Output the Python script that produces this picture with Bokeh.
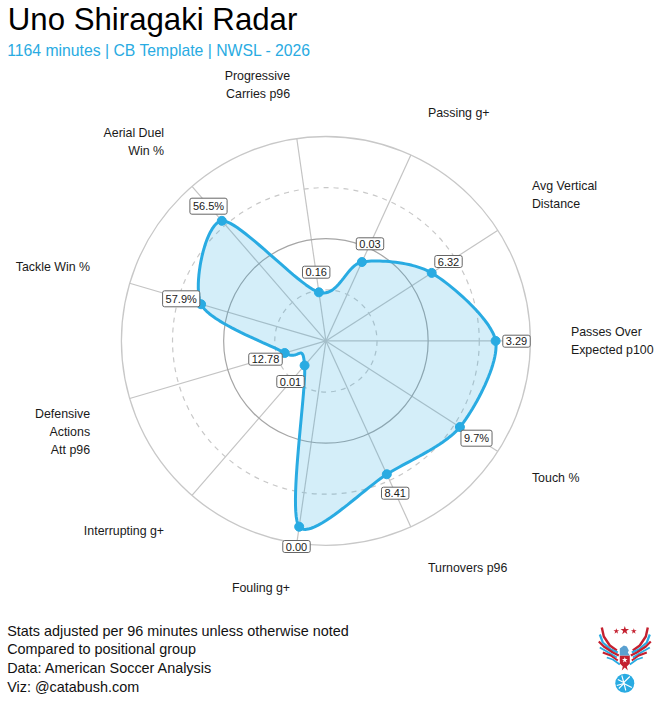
import math
from bokeh.plotting import figure
from bokeh.models import Range1d
from bokeh.core.properties import value
from bokeh.embed import file_html
from bokeh.resources import INLINE

categories = ["Passes Over\nExpected p100", "Avg Vertical\nDistance", "Passing g+", "Progressive\nCarries p96",
              "Aerial Duel\nWin %", "Tackle Win %", "Defensive\nActions\nAtt p96", "Interrupting g+",
              "Fouling g+", "Turnovers p96", "Touch %"]
percentiles = [0.83, 0.615, 0.424, 0.24, 0.777, 0.636, 0.21, 0.159, 0.918, 0.717, 0.779]
value_labels = ["3.29", "6.32", "0.03", "0.16", "56.5%", "57.9%", "12.78", "0.01", "0.00", "8.41", "9.7%"]
rings = [0.25, 0.5, 0.75, 1.0]
footer = ["Stats adjusted per 96 minutes unless otherwise noted", "Compared to positional group",
          "Data: American Soccer Analysis", "Viz: @catabush.com"]

W, H = 660, 701
CX, CY, R = 325.4, 340.4, 204.5
BLUE = "#29ABE2"; RED = "#C4202F"; INK = "#1a1a1a"

def ux(px): return (px - CX) / R
def uy(py): return (CY - py) / R

p = figure(width=W, height=H, output_backend="svg", toolbar_location=None,
           x_range=Range1d(ux(0), ux(W)), y_range=Range1d(uy(H), uy(0)),
           min_border=0, outline_line_color=None, background_fill_color="white")
p.axis.visible = False
p.grid.visible = False

n = len(categories)
ang = [2 * math.pi * i / n for i in range(n)]

# spokes
p.segment(x0=[0] * n, y0=[0] * n, x1=[math.cos(a) for a in ang], y1=[math.sin(a) for a in ang],
          line_color="#c4c4c4", line_width=1.2)
# rings
for r, col, dash, lw in zip(rings, ["#c8c8c8", "#a6a6a6", "#c8c8c8", "#c8c8c8"],
                            ["dashed", "solid", "dashed", "solid"], [1.2, 1.2, 1.2, 1.3]):
    p.circle(x=[0], y=[0], radius=r, fill_color=None, line_color=col,
             line_width=lw, line_dash="5 5" if dash == "dashed" else "solid")

# shape: closed cardinal spline through the values
xs = [v * math.cos(a) for v, a in zip(percentiles, ang)]
ys = [v * math.sin(a) for v, a in zip(percentiles, ang)]
cx, cy = [], []
K = 0.42
for i in range(n):
    for pts, out in ((xs, cx), (ys, cy)):
        a, b, c, d = pts[i - 1], pts[i], pts[(i + 1) % n], pts[(i + 2) % n]
        m1, m2 = K * (c - a), K * (d - b)
        for j in range(24):
            t = j / 24
            out.append((2*t**3 - 3*t**2 + 1)*b + (t**3 - 2*t**2 + t)*m1 + (-2*t**3 + 3*t**2)*c + (t**3 - t**2)*m2)
p.patch(cx, cy, fill_color=BLUE, fill_alpha=0.2, line_color=None)
p.line(cx + cx[:1], cy + cy[:1], line_color=BLUE, line_width=3)
p.scatter(xs, ys, size=9, fill_color=BLUE, line_color=BLUE)

# value tags
tag_px = [(516, 340.7), (448, 261), (369.5, 243.3), (315.7, 271.7), (208, 205.7), (180.7, 298.3),
          (265, 358.7), (290, 381), (296, 546), (394.7, 492.7), (476, 437.7)]
p.text(x=[ux(a) for a, _ in tag_px], y=[uy(b) for _, b in tag_px], text=value_labels,
       text_align="center", text_baseline="middle", text_font=value("Liberation Sans"),
       text_font_size="11px", text_color=INK, background_fill_color="white",
       border_line_color="#666666", border_line_width=1, padding=(3, 2), border_radius=2)

# category labels
cat_layout = [(570.4, 331.8, "left"), (531.4, 185.8, "left"), (427.4, 112.8, "left"), (289.6, 75.8, "right"),
              (163.6, 132.8, "right"), (89.6, 266.8, "right"), (89.6, 413.8, "right"), (163.6, 530.8, "right"),
              (289.6, 587.8, "right"), (427.4, 567.8, "left"), (531.4, 477.8, "left")]
for label, (x, y, al) in zip(categories, cat_layout):
    for k, line in enumerate(label.split("\n")):
        p.text(x=[ux(x)], y=[uy(y + 17.7 * k)], text=[line], text_align=al, text_baseline="middle",
               text_font=value("Liberation Sans"), text_font_size="12.4px", text_color=INK)

# headings
p.text(x=[ux(7.3)], y=[uy(19.3)], text=["Uno Shiragaki Radar"], text_align="left", text_baseline="middle",
       text_font=value("Liberation Sans"), text_font_size="31.2px", text_color="#000000")
p.text(x=[ux(6.7)], y=[uy(49.7)], text=["1164 minutes | CB Template | NWSL - 2026"], text_align="left",
       text_baseline="middle", text_font=value("Liberation Sans"), text_font_size="15.75px", text_color=BLUE)
for k, line in enumerate(footer):
    p.text(x=[ux(6.7)], y=[uy(630.2 + 18.7 * k)], text=[line], text_align="left", text_baseline="middle",
           text_font=value("Liberation Sans"), text_font_size="14.4px", text_color="#111111")

# logo
LX = 624.3
def stripe(col, pts, lw):
    for sign in (-1, 1):
        p.line([ux(LX + sign * a) for a, _ in pts], [uy(b) for _, b in pts], line_color=col, line_width=lw)
stripe(RED, [(23, 627), (21, 636), (15, 645), (8, 650)], 2.4)
stripe(BLUE, [(25, 634), (22, 642), (14, 649), (7, 652)], 2.2)
stripe(RED, [(26, 641), (21, 646), (12, 652), (6, 655)], 2.2)
stripe(BLUE, [(25, 647), (18, 651), (8, 657)], 2)
stripe(RED, [(22, 652), (14, 655), (7, 660)], 2)
stripe(BLUE, [(18, 657), (12, 659), (5, 664)], 1.8)
p.scatter([ux(LX - 8.5), ux(LX), ux(LX + 9)], [uy(630.7), uy(630), uy(630.7)], marker="star",
          size=[6, 9, 6], fill_color=RED, line_color=None)
p.patch([ux(LX + d) for d in (-5, 5, 5, 2, 3, 0, -3, -2, -5)],
        [uy(y) for y in (655, 655, 663, 666, 670, 667, 670, 666, 663)], fill_color=RED, line_color=None)
p.patch([ux(LX + d) for d in (-5, -1, 2, 4, 3, 5, -5)],
        [uy(y) for y in (648, 645, 646, 650, 652, 655, 655)], fill_color="#5aa0d0", line_color=None)
p.scatter([ux(LX)], [uy(659.5)], marker="star", size=6, fill_color="white", line_color=None)
p.scatter([ux(LX)], [uy(682.7)], marker="circle", size=19, fill_color=BLUE, line_color=None)
for seg in ([(-7, 679), (-1, 682), (5, 676)], [(-1, 682), (1, 690)], [(-8, 685), (-1, 683), (7, 687)],
            [(-3, 675), (-1, 682)], [(-6, 688), (-1, 683)]):
    p.line([ux(LX + a) for a, _ in seg], [uy(b) for _, b in seg], line_color="white", line_width=1.1)

open("out.html", "w").write(file_html(p, INLINE))
